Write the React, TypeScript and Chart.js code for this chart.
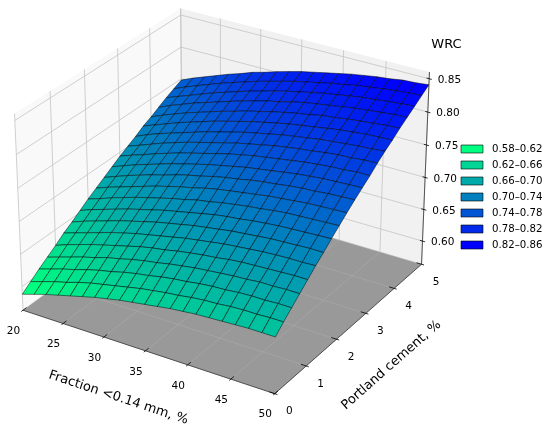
import { useEffect, useRef } from 'react';
import { Chart, registerables } from 'chart.js';

Chart.register(...registerables);

// ---------- data ----------
const fractionValues = [20, 21.5, 23, 24.5, 26, 27.5, 29, 30.5, 32, 33.5, 35, 36.5, 38, 39.5, 41, 42.5, 44, 45.5, 47, 48.5, 50];
const cementValues = [0, 0.25, 0.5, 0.75, 1, 1.25, 1.5, 1.75, 2, 2.25, 2.5, 2.75, 3, 3.25, 3.5, 3.75, 4, 4.25, 4.5, 4.75, 5];
// wrcRows[j][i] : WRC at cementValues[j], fractionValues[i]
const wrcRows = [
  [0.588, 0.594, 0.600, 0.605, 0.610, 0.615, 0.620, 0.624, 0.628, 0.631, 0.634, 0.637, 0.640, 0.642, 0.644, 0.645, 0.646, 0.647, 0.648, 0.648, 0.648],
  [0.598, 0.604, 0.610, 0.615, 0.621, 0.626, 0.630, 0.634, 0.638, 0.642, 0.645, 0.648, 0.650, 0.653, 0.655, 0.656, 0.658, 0.659, 0.659, 0.660, 0.660],
  [0.608, 0.614, 0.620, 0.625, 0.631, 0.636, 0.640, 0.645, 0.649, 0.652, 0.656, 0.659, 0.661, 0.664, 0.666, 0.667, 0.669, 0.670, 0.670, 0.671, 0.671],
  [0.617, 0.623, 0.629, 0.635, 0.640, 0.646, 0.650, 0.655, 0.659, 0.662, 0.666, 0.669, 0.672, 0.674, 0.676, 0.678, 0.679, 0.681, 0.681, 0.682, 0.682],
  [0.626, 0.633, 0.639, 0.645, 0.650, 0.655, 0.660, 0.665, 0.669, 0.672, 0.676, 0.679, 0.682, 0.684, 0.687, 0.689, 0.690, 0.691, 0.692, 0.693, 0.693],
  [0.636, 0.642, 0.648, 0.654, 0.660, 0.665, 0.670, 0.674, 0.678, 0.682, 0.686, 0.689, 0.692, 0.695, 0.697, 0.699, 0.701, 0.702, 0.703, 0.703, 0.704],
  [0.644, 0.651, 0.657, 0.663, 0.669, 0.674, 0.679, 0.684, 0.688, 0.692, 0.696, 0.699, 0.702, 0.705, 0.707, 0.709, 0.711, 0.712, 0.713, 0.714, 0.714],
  [0.653, 0.660, 0.666, 0.672, 0.678, 0.683, 0.688, 0.693, 0.697, 0.701, 0.705, 0.709, 0.712, 0.714, 0.717, 0.719, 0.721, 0.722, 0.723, 0.724, 0.725],
  [0.662, 0.668, 0.675, 0.681, 0.687, 0.692, 0.697, 0.702, 0.706, 0.711, 0.714, 0.718, 0.721, 0.724, 0.726, 0.729, 0.731, 0.732, 0.733, 0.734, 0.735],
  [0.670, 0.677, 0.683, 0.689, 0.695, 0.701, 0.706, 0.711, 0.715, 0.720, 0.724, 0.727, 0.730, 0.733, 0.736, 0.738, 0.740, 0.742, 0.743, 0.744, 0.745],
  [0.678, 0.685, 0.692, 0.698, 0.704, 0.709, 0.715, 0.720, 0.724, 0.729, 0.733, 0.736, 0.740, 0.743, 0.745, 0.748, 0.750, 0.751, 0.753, 0.754, 0.755],
  [0.686, 0.693, 0.700, 0.706, 0.712, 0.718, 0.723, 0.728, 0.733, 0.737, 0.741, 0.745, 0.748, 0.751, 0.754, 0.757, 0.759, 0.761, 0.762, 0.763, 0.764],
  [0.694, 0.701, 0.707, 0.714, 0.720, 0.726, 0.731, 0.736, 0.741, 0.746, 0.750, 0.754, 0.757, 0.760, 0.763, 0.766, 0.768, 0.770, 0.771, 0.773, 0.773],
  [0.701, 0.708, 0.715, 0.722, 0.728, 0.734, 0.739, 0.744, 0.749, 0.754, 0.758, 0.762, 0.766, 0.769, 0.772, 0.774, 0.777, 0.779, 0.780, 0.782, 0.783],
  [0.708, 0.716, 0.723, 0.729, 0.735, 0.741, 0.747, 0.752, 0.757, 0.762, 0.766, 0.770, 0.774, 0.777, 0.780, 0.783, 0.785, 0.787, 0.789, 0.790, 0.792],
  [0.716, 0.723, 0.730, 0.737, 0.743, 0.749, 0.755, 0.760, 0.765, 0.770, 0.774, 0.778, 0.782, 0.785, 0.788, 0.791, 0.794, 0.796, 0.798, 0.799, 0.800],
  [0.722, 0.730, 0.737, 0.744, 0.750, 0.756, 0.762, 0.767, 0.773, 0.777, 0.782, 0.786, 0.790, 0.793, 0.797, 0.799, 0.802, 0.804, 0.806, 0.808, 0.809],
  [0.729, 0.737, 0.744, 0.751, 0.757, 0.763, 0.769, 0.775, 0.780, 0.785, 0.789, 0.794, 0.798, 0.801, 0.804, 0.807, 0.810, 0.812, 0.814, 0.816, 0.817],
  [0.736, 0.743, 0.750, 0.757, 0.764, 0.770, 0.776, 0.782, 0.787, 0.792, 0.797, 0.801, 0.805, 0.809, 0.812, 0.815, 0.818, 0.820, 0.822, 0.824, 0.825],
  [0.742, 0.750, 0.757, 0.764, 0.771, 0.777, 0.783, 0.789, 0.794, 0.799, 0.804, 0.808, 0.812, 0.816, 0.819, 0.823, 0.825, 0.828, 0.830, 0.832, 0.833],
  [0.748, 0.756, 0.763, 0.770, 0.777, 0.783, 0.790, 0.795, 0.801, 0.806, 0.811, 0.815, 0.819, 0.823, 0.827, 0.830, 0.833, 0.835, 0.838, 0.839, 0.841],
];
const fractionTicks = [20, 25, 30, 35, 40, 45, 50];
const cementTicks = [0, 1, 2, 3, 4, 5];
const wrcTicks = [0.60, 0.65, 0.70, 0.75, 0.80, 0.85];
const legendLabels = ['0.58–0.62', '0.62–0.66', '0.66–0.70', '0.70–0.74', '0.74–0.78', '0.78–0.82', '0.82–0.86'];
const fractionLimits = [20, 50];
const cementLimits = [0, 5];
const wrcLimits = [0.563, 0.86];

// ---------- view / layout ----------
const ELEV = 28;
const AZIM = -58;
const DIST = 10;
const CANVAS_W = 550;
const CANVAS_H = 434;
const ORIGIN = [225.4, 191.6]; // canvas px of projection centre
const SCALE = [2581, 2568];
const FONT = '"DejaVu Sans", "Liberation Sans", sans-serif';

const BOX = (() => {
  const a = [4, 4, 3];
  const n = Math.hypot(a[0], a[1], a[2]);
  return a.map((v) => (v * 1.8294640721620434) / n);
})();
const rad = Math.PI / 180;
const Wv = [Math.cos(ELEV * rad) * Math.cos(AZIM * rad), Math.cos(ELEV * rad) * Math.sin(AZIM * rad), Math.sin(ELEV * rad)];
const Uv = (() => {
  const c = [-Wv[1], Wv[0], 0];
  const n = Math.hypot(c[0], c[1], c[2]);
  return c.map((v) => v / n);
})();
const Vv = [
  Wv[1] * Uv[2] - Wv[2] * Uv[1],
  Wv[2] * Uv[0] - Wv[0] * Uv[2],
  Wv[0] * Uv[1] - Wv[1] * Uv[0],
];
const dot = (a: number[], b: number[]) => a[0] * b[0] + a[1] * b[1] + a[2] * b[2];

function project(x: number, y: number, z: number) {
  const q = [
    ((x - fractionLimits[0]) / (fractionLimits[1] - fractionLimits[0]) - 0.5) * BOX[0],
    ((y - cementLimits[0]) / (cementLimits[1] - cementLimits[0]) - 0.5) * BOX[1],
    ((z - wrcLimits[0]) / (wrcLimits[1] - wrcLimits[0]) - 0.5) * BOX[2],
  ];
  const depth = dot(Wv, q);
  const den = DIST - depth;
  return [dot(Uv, q) / den, dot(Vv, q) / den, depth];
}

const X2D_MIN = -ORIGIN[0] / SCALE[0];
const X2D_MAX = X2D_MIN + CANVAS_W / SCALE[0];
const Y2D_MAX = ORIGIN[1] / SCALE[1];
const Y2D_MIN = Y2D_MAX - CANVAS_H / SCALE[1];

function winterR(t: number) {
  const c = Math.max(0, Math.min(1, t));
  return `rgb(0, ${Math.round(255 * (1 - c))}, ${Math.round(255 * (0.5 + 0.5 * c))})`;
}

const surfacePlugin = {
  id: 'surface3d',
  afterDraw(chart: any) {
    const ctx: CanvasRenderingContext2D = chart.ctx;
    const xs = chart.scales.x;
    const ys = chart.scales.y;
    const P = (x: number, y: number, z: number) => {
      const p = project(x, y, z);
      return [xs.getPixelForValue(p[0]), ys.getPixelForValue(p[1])];
    };
    const [x0, x1] = fractionLimits;
    const [y0, y1] = cementLimits;
    const [z0, z1] = wrcLimits;

    const poly = (pts: number[][], fill: string | null, stroke?: string, lw?: number) => {
      ctx.beginPath();
      ctx.moveTo(pts[0][0], pts[0][1]);
      for (let k = 1; k < pts.length; k++) ctx.lineTo(pts[k][0], pts[k][1]);
      ctx.closePath();
      if (fill) {
        ctx.fillStyle = fill;
        ctx.fill();
      }
      if (stroke) {
        ctx.strokeStyle = stroke;
        ctx.lineWidth = lw || 1;
        ctx.stroke();
      }
    };
    const line = (a: number[], b: number[], color: string, lw: number) => {
      ctx.beginPath();
      ctx.moveTo(a[0], a[1]);
      ctx.lineTo(b[0], b[1]);
      ctx.strokeStyle = color;
      ctx.lineWidth = lw;
      ctx.stroke();
    };

    ctx.save();
    ctx.lineJoin = 'round';

    // panes
    poly([P(x0, y0, z0), P(x0, y1, z0), P(x0, y1, z1), P(x0, y0, z1)], 'rgb(249,249,249)');
    poly([P(x0, y1, z0), P(x1, y1, z0), P(x1, y1, z1), P(x0, y1, z1)], 'rgb(241,241,241)');
    poly([P(x0, y0, z0), P(x1, y0, z0), P(x1, y1, z0), P(x0, y1, z0)], 'rgb(153,153,153)');

    // grid lines
    const gridColor = '#c4c4c4';
    const floorGrid = 'rgba(175,175,175,0.6)';
    fractionTicks.forEach((fx) => {
      line(P(fx, y0, z0), P(fx, y1, z0), floorGrid, 0.8);
      line(P(fx, y1, z0), P(fx, y1, z1), gridColor, 0.8);
    });
    cementTicks.forEach((cy) => {
      line(P(x0, cy, z0), P(x1, cy, z0), floorGrid, 0.8);
      line(P(x0, cy, z0), P(x0, cy, z1), gridColor, 0.8);
    });
    wrcTicks.forEach((wz) => {
      line(P(x0, y0, wz), P(x0, y1, wz), gridColor, 0.8);
      line(P(x0, y1, wz), P(x1, y1, wz), gridColor, 0.8);
    });

    // axis lines
    const axisColor = '#333';
    line(P(x0, y0, z0), P(x1, y0, z0), axisColor, 0.8);
    line(P(x1, y0, z0), P(x1, y1, z0), axisColor, 0.8);
    line(P(x1, y1, z0), P(x1, y1, z1), axisColor, 0.8);

    // ticks and tick labels
    ctx.fillStyle = '#000';
    ctx.font = `10.5px ${FONT}`;
    ctx.textAlign = 'center';
    ctx.textBaseline = 'middle';
    fractionTicks.forEach((fx) => {
      line(P(fx, y0 - 0.05, z0), P(fx, y0 + 0.1, z0), '#000', 0.8);
      const p = P(fx, y0, z0);
      ctx.fillStyle = '#000';
      ctx.fillText(String(fx), p[0] - 9.5, p[1] + 21);
    });
    cementTicks.forEach((cy) => {
      line(P(x1 + 0.3, cy, z0), P(x1 - 0.6, cy, z0), '#000', 0.8);
      const p = P(x1, cy, z0);
      ctx.fillStyle = '#000';
      ctx.fillText(String(cy), p[0] + 14.5, p[1] + 18);
    });
    ctx.textAlign = 'left';
    wrcTicks.forEach((wz) => {
      line(P(x1 + 0.3, y1, wz), P(x1 - 0.3, y1, wz), '#000', 0.8);
      const p = P(x1, y1, wz);
      ctx.fillStyle = '#000';
      ctx.fillText(wz.toFixed(2), p[0] + 8.5, p[1] + 1.5);
    });

    // axis labels
    ctx.font = `13px ${FONT}`;
    ctx.textAlign = 'center';
    const a0 = P(x0, y0, z0), a1 = P(x1, y0, z0);
    const xm = P((x0 + x1) / 2, y0, z0);
    ctx.save();
    ctx.translate(xm[0] - 27, xm[1] + 47);
    ctx.rotate(Math.atan2(a1[1] - a0[1], a1[0] - a0[0]));
    ctx.fillText('Fraction <0.14 mm, %', 0, 0);
    ctx.restore();
    const b0 = P(x1, y0, z0), b1 = P(x1, y1, z0);
    const ym = P(x1, (y0 + y1) / 2, z0);
    ctx.save();
    ctx.translate(ym[0] + 40, ym[1] + 39);
    ctx.rotate(Math.atan2(b1[1] - b0[1], b1[0] - b0[0]));
    ctx.fillText('Portland cement, %', 0, 0);
    ctx.restore();
    const zt = P(x1, y1, z1);
    ctx.fillText('WRC', zt[0] + 17, zt[1] - 27);

    // surface faces
    const faces: { pts: number[][]; depth: number; avg: number }[] = [];
    for (let j = 0; j < cementValues.length - 1; j++) {
      for (let i = 0; i < fractionValues.length - 1; i++) {
        const corners = [
          [fractionValues[i], cementValues[j], wrcRows[j][i]],
          [fractionValues[i + 1], cementValues[j], wrcRows[j][i + 1]],
          [fractionValues[i + 1], cementValues[j + 1], wrcRows[j + 1][i + 1]],
          [fractionValues[i], cementValues[j + 1], wrcRows[j + 1][i]],
        ];
        let depth = 0;
        let avg = 0;
        const pts = corners.map((c) => {
          depth += project(c[0], c[1], c[2])[2];
          avg += c[2];
          return P(c[0], c[1], c[2]);
        });
        faces.push({ pts, depth: depth / 4, avg: avg / 4 });
      }
    }
    let vmin = Infinity, vmax = -Infinity;
    faces.forEach((f) => {
      vmin = Math.min(vmin, f.avg);
      vmax = Math.max(vmax, f.avg);
    });
    faces.sort((a, b) => a.depth - b.depth);
    faces.forEach((f) => {
      poly(f.pts, winterR((f.avg - vmin) / (vmax - vmin)), 'rgba(0,0,0,0.8)', 0.6);
    });

    // legend
    ctx.font = `10.2px ${FONT}`;
    ctx.textAlign = 'left';
    ctx.textBaseline = 'middle';
    legendLabels.forEach((lab, k) => {
      const cy = 149 + 16 * k;
      ctx.fillStyle = winterR(k / (legendLabels.length - 1));
      ctx.fillRect(461, cy - 4, 22, 8);
      ctx.strokeStyle = 'rgba(0,0,0,0.75)';
      ctx.lineWidth = 0.8;
      ctx.strokeRect(461, cy - 4, 22, 8);
      ctx.fillStyle = '#000';
      ctx.fillText(lab, 492, cy + 0.5);
    });

    ctx.restore();
  },
};

export default function App() {
  const canvasRef = useRef<HTMLCanvasElement | null>(null);
  useEffect(() => {
    if (!canvasRef.current) return;
    const chart = new Chart(canvasRef.current, {
      type: 'scatter',
      data: { datasets: [] },
      options: {
        animation: false,
        responsive: false,
        devicePixelRatio: 1,
        layout: { padding: 0 },
        plugins: { legend: { display: false }, tooltip: { enabled: false } },
        scales: {
          x: { type: 'linear', display: false, min: X2D_MIN, max: X2D_MAX },
          y: { type: 'linear', display: false, min: Y2D_MIN, max: Y2D_MAX },
        },
      },
      plugins: [surfacePlugin],
    } as any);
    return () => chart.destroy();
  }, []);
  return (
    <div style={{ position: 'absolute', left: 0, top: 0, width: CANVAS_W, height: CANVAS_H }}>
      <canvas ref={canvasRef} width={CANVAS_W} height={CANVAS_H} style={{ display: 'block' }} />
    </div>
  );
}
